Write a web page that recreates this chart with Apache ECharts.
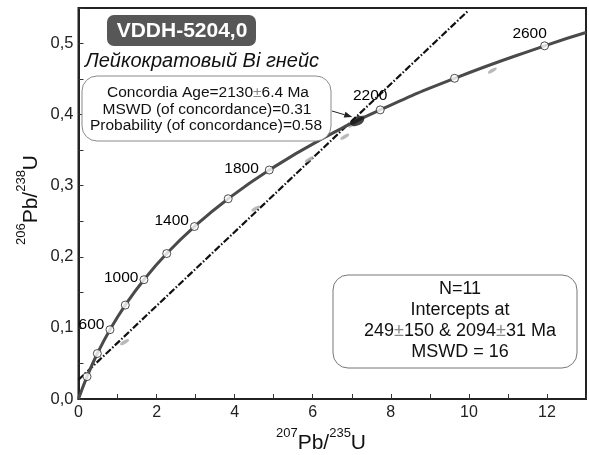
<!DOCTYPE html>
<html><head><meta charset="utf-8">
<script src="https://cdn.jsdelivr.net/npm/echarts@6/dist/echarts.min.js"></script>
<style>html,body{margin:0;padding:0;background:#fff}#c{width:589px;height:455px}</style>
</head><body><div id="c"></div>
<script>
// Concordia curve (207Pb/235U, 206Pb/238U)
const concordiaX = [0, 0.218, 0.483, 0.806, 1.199, 1.677, 2.260, 2.970, 3.834, 4.887, 6.168, 7.729, 9.634, 11.94, 13.0];
const concordiaY = [0, 0.0315, 0.0640, 0.0975, 0.1321, 0.1678, 0.2046, 0.2426, 0.2817, 0.3221, 0.3638, 0.4067, 0.4511, 0.4968, 0.5155];
// Age markers on the concordia
const markerAges = [200, 400, 600, 800, 1000, 1200, 1400, 1600, 1800, 2200, 2400, 2600];
const markerX = [0.218, 0.483, 0.806, 1.199, 1.677, 2.260, 2.970, 3.834, 4.887, 7.729, 9.634, 11.94];
const markerY = [0.0315, 0.0640, 0.0975, 0.1321, 0.1678, 0.2046, 0.2426, 0.2817, 0.3221, 0.4067, 0.4511, 0.4968];
const labelledAges = [600, 1000, 1400, 1800, 2200, 2600];
// Discordia line
const discordiaX = [0, 9.96];
const discordiaY = [0.027, 0.545];
// Concordia age ellipse
const concAgeX = [7.14];
const concAgeY = [0.391];
// Analysis spots (grey error ellipses)
const spotX = [10.6, 6.82, 5.91, 4.54, 1.18, 7.02, 7.22];
const spotY = [0.462, 0.369, 0.337, 0.268, 0.080, 0.386, 0.395];
// Tick labels
const xTickLabels = ['0', '2', '4', '6', '8', '10', '12'];
const yTickLabels = ['0,0', '0,1', '0,2', '0,3', '0,4', '0,5'];

const FONT = '"Liberation Sans", Arial, sans-serif';
const labelStyle = {
  600: {position: 'left', distance: 1, offset: [0, -5]},
  1000: {position: 'left', distance: 1, offset: [0, -2]},
  1400: {position: 'left', distance: 1, offset: [0, -6]},
  1800: {position: 'left', distance: 6, offset: [0, -1]},
  2200: {position: 'top', distance: 2, offset: [-10, 0]},
  2600: {position: 'top', distance: 0, offset: [-15, 0]}
};

const chart = echarts.init(document.getElementById('c'), null, {renderer: 'canvas'});

const markerData = markerAges.map((a, i) => {
  const d = {value: [markerX[i], markerY[i]], age: a};
  if (labelledAges.includes(a)) {
    d.label = Object.assign({show: true, formatter: String(a), color: '#000', fontSize: 15.5, fontFamily: FONT, textBorderWidth: 0, opacity: 1}, labelStyle[a]);
  }
  return d;
});

const supRich = {
  sup: {fontSize: 13, lineHeight: 15, verticalAlign: 'top', fontFamily: FONT, fill: '#111'},
  big: {fontSize: 21, lineHeight: 27, verticalAlign: 'bottom', fontFamily: FONT, fill: '#111'}
};

let gid = 0;
function gText(x, y, text, size, extra) {
  return {
    id: 't' + (gid++), type: 'text', x: x, y: y, z: 101,
    style: Object.assign({text: text, font: size + 'px ' + FONT, fill: '#111', align: 'center', verticalAlign: 'middle'}, extra || {})
  };
}

chart.setOption({
  animation: false,
  grid: {left: 78.5, right: -3, top: 8, bottom: 56, show: true, borderColor: '#222', borderWidth: 2, backgroundColor: 'transparent'},
  xAxis: {
    type: 'value', min: 0, max: 13, interval: 1,
    axisLine: {lineStyle: {color: '#222', width: 2}},
    axisTick: {inside: true, length: 5, lineStyle: {color: '#333', width: 1}},
    splitLine: {show: false},
    axisLabel: {
      color: '#222', fontSize: 16, fontFamily: FONT, margin: 6,
      formatter: v => { const r = Math.round(v); if (Math.abs(v - r) > 1e-6 || r % 2) return ''; return xTickLabels[r / 2] || ''; }
    }
  },
  yAxis: {
    type: 'value', min: 0, max: 0.55, interval: 0.05,
    axisLine: {lineStyle: {color: '#222', width: 2}},
    axisTick: {inside: true, length: 5, lineStyle: {color: '#333', width: 1}},
    splitLine: {show: false},
    axisLabel: {
      color: '#222', fontSize: 16.5, fontFamily: FONT, margin: 5,
      formatter: v => { const r = Math.round(v * 20); if (Math.abs(v * 20 - r) > 1e-6 || r % 2) return ''; return yTickLabels[r / 2] || ''; }
    }
  },
  series: [
    {
      type: 'line', data: discordiaX.map((x, i) => [x, discordiaY[i]]), symbol: 'none', z: 2,
      lineStyle: {color: '#111', width: 2.2, type: [7, 2, 1.5, 2]}
    },
    {
      type: 'scatter', data: spotX.map((x, i) => [x, spotY[i]]), z: 3,
      symbol: 'circle', symbolSize: [10, 3.5], symbolRotate: 30,
      itemStyle: {color: '#a8a8a8'}
    },
    {
      type: 'line', data: concordiaX.map((x, i) => [x, concordiaY[i]]), symbol: 'none', z: 4,
      smooth: 0.5,
      lineStyle: {color: '#4a4a4a', width: 3}
    },
    {
      type: 'scatter', data: markerData, z: 5,
      symbol: 'circle', symbolSize: 8,
      itemStyle: {color: '#fff', borderColor: '#222', borderWidth: 1},
      label: {show: false, color: '#000', fontSize: 15.5, fontFamily: FONT}
    },
    {
      type: 'scatter', data: concAgeX.map((x, i) => [x, concAgeY[i]]), z: 6,
      symbol: 'circle', symbolSize: [15, 9], symbolRotate: 25,
      itemStyle: {color: '#151515'}
    }
  ],
  graphic: [
    {id: 'titleBox', type: 'rect', z: 100, shape: {x: 107, y: 15, width: 149, height: 31, r: 7}, style: {fill: '#575757'}},
    gText(182, 31, 'VDDH-5204,0', 21, {fill: '#fff', font: 'bold 21px ' + FONT}),
    {id: 'subtitle', type: 'text', z: 101, x: 85, y: 61, style: {text: 'Лейкократовый Bi гнейс', font: 'italic 20px ' + FONT, fill: '#111', align: 'left', verticalAlign: 'middle'}},
    {id: 'box1', type: 'rect', z: 100, shape: {x: 82, y: 76, width: 249, height: 65, r: 15}, style: {fill: '#fff', stroke: '#8a8a8a', lineWidth: 1}},
    gText(208, 93, 'Concordia Age=2130{pm|±}6.4 Ma', 15.5, {rich: {pm: {fill: '#888', font: '15.5px ' + FONT}}}),
    gText(207, 109.5, 'MSWD (of concordance)=0.31', 15.5),
    gText(206, 126, 'Probability (of concordance)=0.58', 15.5),
    {id: 'box2', type: 'rect', z: 100, shape: {x: 333, y: 275, width: 244, height: 93, r: 15}, style: {fill: '#fff', stroke: '#777', lineWidth: 1}},
    gText(460, 289, 'N=11', 18),
    gText(460, 310, 'Intercepts at', 18),
    gText(460, 331, '249{pm|±}150 & 2094{pm|±}31 Ma', 18, {rich: {pm: {fill: '#888', font: '18px ' + FONT}}}),
    gText(460, 352, 'MSWD = 16', 18),
    {id: 'xname', type: 'text', z: 101, x: 321, y: 440, style: {text: '{sup|207}{big|Pb/}{sup|235}{big|U}', rich: supRich, align: 'center', verticalAlign: 'middle'}},
    {id: 'yname', type: 'text', z: 101, x: 28, y: 200, rotation: Math.PI / 2, style: {text: '{sup|206}{big|Pb/}{sup|238}{big|U}', rich: supRich, align: 'center', verticalAlign: 'middle'}}
  ]
});

// Arrow from the concordia box to the concordia age ellipse
const p = chart.convertToPixel({xAxisIndex: 0, yAxisIndex: 0}, [concAgeX[0], concAgeY[0]]);
const sx = 332, sy = 111;
const ex = p[0] - 5, ey = p[1] - 4;
const L = Math.hypot(ex - sx, ey - sy), dx = (ex - sx) / L, dy = (ey - sy) / L;
const bx = ex - dx * 8, by = ey - dy * 8;
chart.setOption({
  graphic: [
    {id: 'arrowLine', type: 'line', z: 102, shape: {x1: sx, y1: sy, x2: bx, y2: by}, style: {stroke: '#222', lineWidth: 1}},
    {id: 'arrowHead', type: 'polygon', z: 102, shape: {points: [[ex, ey], [bx - dy * 3, by + dx * 3], [bx + dy * 3, by - dx * 3]]}, style: {fill: '#222'}}
  ]
});
</script></body></html>
